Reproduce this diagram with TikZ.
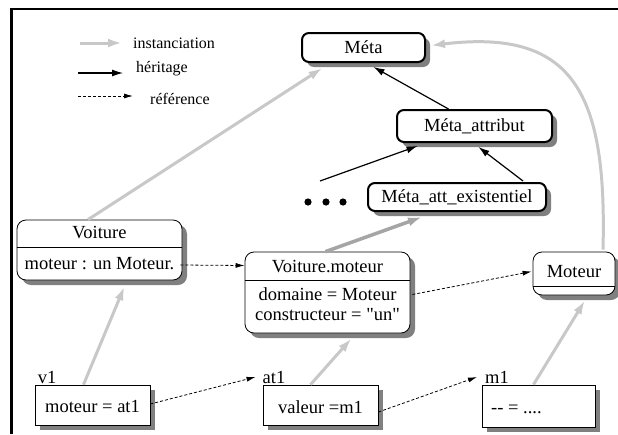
\documentclass[tikz,border=0pt]{standalone}
\usepackage{fontspec}
\setmainfont{Liberation Serif}
\usetikzlibrary{arrows.meta,shadows,calc}

\definecolor{instgray}{RGB}{200,200,200}
\definecolor{darkinst}{RGB}{165,165,165}
\definecolor{shadowgray}{RGB}{128,128,128}

\tikzset{
 shad/.style={drop shadow={shadow xshift=5pt,shadow yshift=-5pt,fill=shadowgray,opacity=1}},
 metabox/.style={draw,line width=2pt,rounded corners=7pt,fill=white,shad,inner sep=0pt},
 classbox/.style={draw,line width=0.8pt,rounded corners=9pt,fill=white,shad,inner sep=0pt},
 objbox/.style={draw,line width=0.8pt,fill=white,shad,inner sep=0pt},
 txt/.style={font=\fontsize{18.5}{20}\selectfont,inner sep=0pt},
 legtxt/.style={font=\fontsize{16}{18}\selectfont,inner sep=0pt,anchor=west},
 inst/.style={draw=instgray,line width=3pt,-{Latex[length=14pt,width=9pt]}},
 instdark/.style={draw=darkinst,line width=3.5pt,-{Latex[length=14pt,width=9pt]}},
 herit/.style={draw=black,line width=1.2pt,-{Latex[length=11pt,width=7pt]}},
 refarrow/.style={draw=black,line width=0.8pt,dash pattern=on 3pt off 2pt,-{Latex[length=9pt,width=5pt]}},
 divider/.style={draw=black,line width=0.8pt},
}

\begin{document}
\begin{tikzpicture}[x=1pt,y=-1pt]
\useasboundingbox (0,0) rectangle (618,434);
\fill[white] (0,0) rectangle (618,434);

% frame
\draw[line width=2.5pt] (11.5,434) -- (11.5,9) -- (618,9);

% legend
\node[legtxt] (leginst) at (133,43) {instanciation};
\node[legtxt] (legherit) at (136,69) {héritage};
\node[legtxt] (legref) at (150,99) {référence};
\coordinate (li) at (80,43);
\coordinate (lh) at (78,73);
\coordinate (lr) at (78,96);
\draw[inst] (li) -- ($(leginst.west |- li)+(-11,0)$);
\draw[herit] (lh) -- ($(legherit.west |- lh)+(-13,0)$);
\draw[refarrow] (lr) -- ($(legref.west |- lr)+(-17,0)$);

% meta boxes
\node[metabox,txt,minimum width=123pt,minimum height=29pt] (meta) at (363.5,47.5) {Méta};
\node[metabox,txt,minimum width=155pt,minimum height=32pt] (ma) at (474.5,126) {Méta\_attribut};
\node[metabox,txt,minimum width=178pt,minimum height=28pt] (mae) at (457,197) {Méta\_att\_existentiel};

% dots
\node[minimum width=44pt,minimum height=8pt,inner sep=0pt] (dots) at (326,202) {};
\fill (dots.center) ++(-18,0) circle (3.6);
\fill (dots.center) circle (3.6);
\fill (dots.center) ++(17,0) circle (3.6);

% Voiture
\node[classbox,minimum width=165pt,minimum height=60pt] (voiture) at (99.5,250) {};
\node[txt] (voiturename) at (99.5,233) {Voiture};
\node[txt] (voitureattr) at (99.5,264) {moteur : un Moteur.};
\draw[divider] (voiture.west |- 0,247) -- (voiture.east |- 0,247);

% Voiture.moteur
\node[classbox,minimum width=165pt,minimum height=81pt] (vm) at (327.5,292.5) {};
\node[txt] (vmname) at (327.5,267) {Voiture.moteur};
\node[txt] (vmdom) at (327.5,294) {domaine = Moteur};
\node[txt] (vmcons) at (327.5,315) {constructeur = \textquotedbl un\textquotedbl};
\draw[divider] (vm.west |- 0,280) -- (vm.east |- 0,280);

% Moteur
\node[classbox,minimum width=82pt,minimum height=43pt] (moteur) at (574,273.5) {};
\node[txt] (moteurname) at (574,272) {Moteur};
\draw[divider] (moteur.west |- 0,286) -- (moteur.east |- 0,286);

% objects
\node[objbox,minimum width=115pt,minimum height=40pt] (v1) at (92.5,405) {};
\node[txt] (v1txt) at (92.5,406) {moteur = at1};
\node[txt] (v1lab) at (47,377) {v1};
\node[objbox,minimum width=115pt,minimum height=40pt] (at1) at (320.5,405) {};
\node[txt] (at1txt) at (320.5,407) {valeur =m1};
\node[txt] (at1lab) at (274,377) {at1};
\node[objbox,minimum width=113pt,minimum height=42pt] (m1) at (538.5,406) {};
\node[txt,anchor=west] (m1txt) at (491,409) {-{}- = ....};
\node[txt] (m1lab) at (497,377) {m1};

% instanciation arrows
\draw[inst] ($(voiture.north)+(-11.5,0)$) -- ($(meta.south)+(-41,5)$);
\draw[inst] ($(v1.north)+(-9,0)$) -- ($(voiture.south)+(25,6)$);
\draw[inst] ($(at1.north)+(-10,0)$) -- ($(vm.south)+(24,5)$);
\draw[inst] ($(m1.north)+(-5,0)$) -- ($(moteur.south)+(11,5)$);
\draw[inst] ($(moteur.north)+(29,-2)$) .. controls (607,95) and (575,28) .. ($(meta.east)+(5,-2)$);
\draw[instdark] ($(vm.north)+(-2,0)$) -- ($(mae.south)+(-35,5)$);

% heritage arrows
\draw[herit] ($(ma.north)+(-26,0)$) -- ($(meta.south)+(10,4)$);
\draw[herit] ($(mae.north)+(66,-1)$) -- ($(ma.south)+(4,4)$);
\draw[herit] ($(dots.center)+(-6,-21)$) -- ($(ma.south)+(-57,3)$);

% reference arrows
\draw[refarrow] ($(voiture.east)+(-2,15)$) -- ($(vm.west)+(0,-27)$);
\draw[refarrow] ($(vm.east)+(2,2)$) -- ($(moteur.west)+(-1,-2)$);
\draw[refarrow] ($(v1.east)+(0,-1)$) -- ($(at1lab.west)+(-7,0)$);
\draw[refarrow] ($(at1.east)+(0,7)$) -- ($(m1lab.west)+(-8,0)$);
\end{tikzpicture}
\end{document}
